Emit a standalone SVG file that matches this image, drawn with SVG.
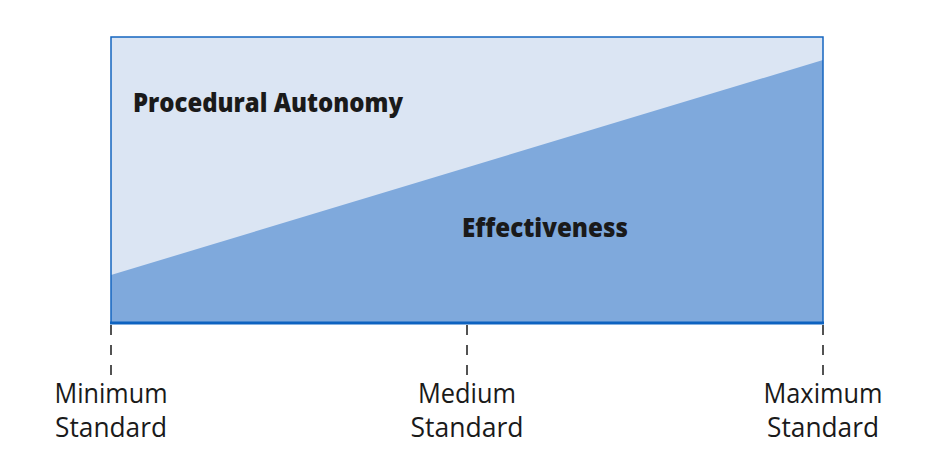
<svg xmlns="http://www.w3.org/2000/svg" width="942" height="466" viewBox="0 0 942 466">
<style>
.lbl{font-family:"Open Sans","Noto Sans",sans-serif;font-size:26.5px;fill:#1a1a1a;text-anchor:middle}
.bold{font-family:"Open Sans","Noto Sans",sans-serif;font-size:26px;font-weight:800;fill:#1a1a1a}
.tick{stroke:#1a1a1a;stroke-width:1.5;stroke-dasharray:10,10}
</style>
<rect width="942" height="466" fill="#ffffff"/>
<g id="chart">
<rect x="111" y="37" width="712" height="286" fill="#dbe5f3"/>
<polygon points="111,275 823,60 823,323 111,323" fill="#7fa9dc"/>
<rect x="111" y="37" width="712" height="286" fill="none" stroke="#1565c0" stroke-width="1.5"/>
<line x1="110" y1="323" x2="824" y2="323" stroke="#0d62c0" stroke-width="3"/>
</g>
<g id="region-labels">
<text id="procedural" class="bold" x="133" y="112" textLength="270" lengthAdjust="spacingAndGlyphs">Procedural Autonomy</text>
<text id="effectiveness" class="bold" x="462" y="237" textLength="166" lengthAdjust="spacingAndGlyphs">Effectiveness</text>
</g>
<g id="connectors">
<line class="tick" x1="111" y1="325" x2="111" y2="377"/>
<line class="tick" x1="467" y1="325" x2="467" y2="377"/>
<line class="tick" x1="823" y1="325" x2="823" y2="377"/>
</g>
<g id="min">
<text class="lbl" x="111" y="403" textLength="113" lengthAdjust="spacingAndGlyphs">Minimum</text>
<text class="lbl" x="111" y="437" textLength="112" lengthAdjust="spacingAndGlyphs">Standard</text>
</g>
<g id="med">
<text class="lbl" x="467" y="403" textLength="98" lengthAdjust="spacingAndGlyphs">Medium</text>
<text class="lbl" x="467" y="437" textLength="113" lengthAdjust="spacingAndGlyphs">Standard</text>
</g>
<g id="max">
<text class="lbl" x="823" y="403" textLength="119" lengthAdjust="spacingAndGlyphs">Maximum</text>
<text class="lbl" x="823" y="437" textLength="112" lengthAdjust="spacingAndGlyphs">Standard</text>
</g>
</svg>
